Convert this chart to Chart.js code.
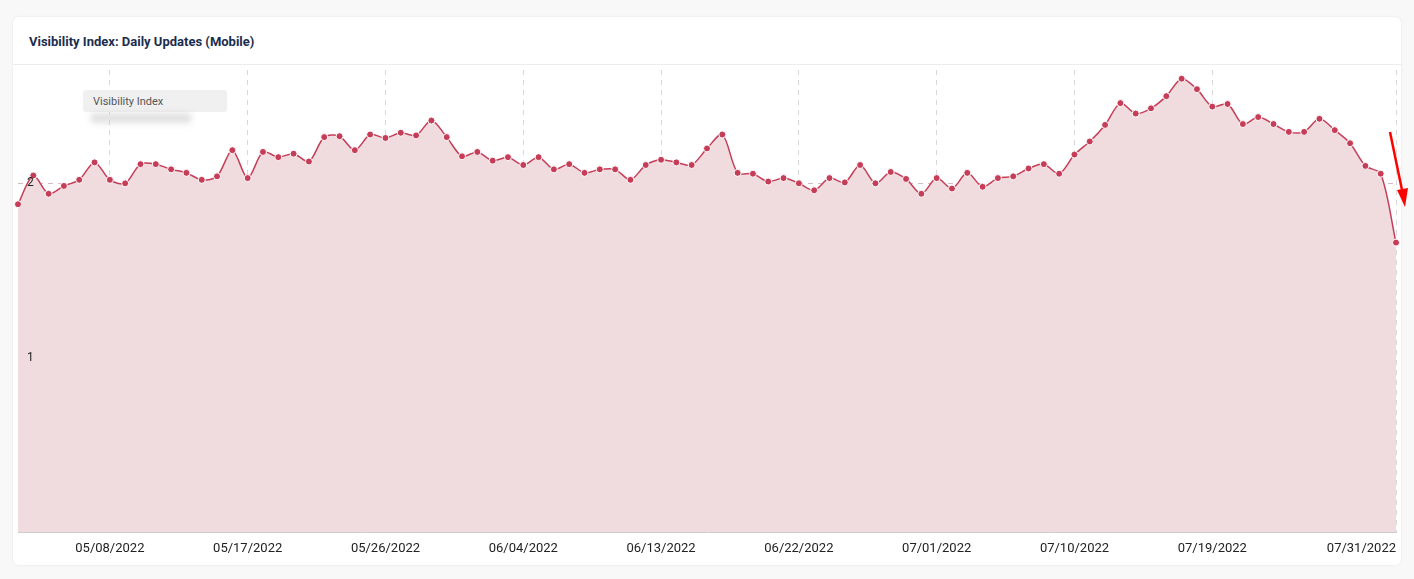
<!DOCTYPE html>
<html>
<head>
<meta charset="utf-8">
<script src="https://cdn.jsdelivr.net/npm/chart.js@4"></script>
<style>
  body { margin: 0; background: #f8f8f8; font-family: Roboto, "Noto Sans", sans-serif; }
  #card { position: absolute; left: 13px; top: 17px; width: 1388px; height: 548px; background: #fff;
          border-radius: 6px; box-shadow: 0 0 3px rgba(0,0,0,0.08); overflow: hidden; }
  #title { position: absolute; left: 16px; top: 17px; font-size: 13px; font-weight: bold; color: #1b2d4f; }
  #sep { position: absolute; left: 0; right: 0; top: 47px; border-top: 1px solid #ececec; }
  #wrap { position: absolute; left: 0; top: 48px; width: 1388px; height: 500px; }
  #legend { position: absolute; left: 70px; top: 73px; width: 144px; height: 22px; background: #f0f0f0;
            border-radius: 3px; font-size: 11px; color: #555; padding: 5px 0 0 10px; box-sizing: border-box; }
  #blur { position: absolute; left: 78px; top: 96px; width: 100px; height: 10px; background: #ccc;
          filter: blur(3px); opacity: 0.6; }
  svg { position: absolute; left: 0; top: 0; }
</style>
</head>
<body>
<div id="card">
  <div id="title">Visibility Index: Daily Updates (Mobile)</div>
  <div id="sep"></div>
  <div id="wrap"><canvas id="c"></canvas></div>
  <div id="legend">Visibility Index</div>
  <div id="blur"></div>
</div>
<svg width="1414" height="579">
  <line x1="1390" y1="132" x2="1402" y2="190" stroke="#f00" stroke-width="2.5"/>
  <polygon points="1397,190 1408,188 1405,207" fill="#f00"/>
</svg>
<script>
// daily dates 05/02/2022 .. 07/31/2022
let dates = [];
let d = new Date(2022, 4, 2);
while (d <= new Date(2022, 6, 31)) {
    let mm = String(d.getMonth() + 1).padStart(2, '0');
    let dd = String(d.getDate()).padStart(2, '0');
    dates.push(mm + '/' + dd + '/2022');
    d.setDate(d.getDate() + 1);
}

let visibility = [
    1.88, 2.045, 1.94, 1.985, 2.02, 2.12, 2.02, 2.0, 2.11, 2.11,
    2.08, 2.06, 2.02, 2.04, 2.19, 2.03, 2.18, 2.15, 2.17, 2.125,
    2.265, 2.27, 2.19, 2.28, 2.26, 2.29, 2.275, 2.36, 2.265, 2.155,
    2.18, 2.13, 2.15, 2.105, 2.15, 2.08, 2.11, 2.06, 2.08, 2.08,
    2.02, 2.105, 2.135, 2.12, 2.105, 2.2, 2.28, 2.06, 2.055, 2.01,
    2.03, 2.0, 1.96, 2.03, 2.005, 2.105, 2.0, 2.065, 2.025, 1.94,
    2.03, 1.97, 2.06, 1.98, 2.03, 2.04, 2.085, 2.11, 2.055, 2.165,
    2.24, 2.335, 2.46, 2.40, 2.43, 2.50, 2.60, 2.54, 2.44, 2.455,
    2.34, 2.38, 2.34, 2.295, 2.295, 2.37, 2.305, 2.23, 2.10, 2.055,
    1.66
];
let yTicks = [1, 2];

function showTick(i) {
    return ((i - 6) % 9 === 0 && i < 85) || i === dates.length - 1;
}

// draws tick labels using the chart's own scales
const labelPlugin = {
    id: 'labels',
    afterDraw(chart) {
        const c = chart.ctx, x = chart.scales.x, y = chart.scales.y;
        c.save();
        c.fillStyle = '#222';
        c.font = '13px Roboto';
        c.textBaseline = 'middle';
        dates.forEach((lab, i) => {
            if (!showTick(i)) return;
            c.textAlign = i === dates.length - 1 ? 'right' : 'center';
            c.fillText(lab, x.getPixelForValue(i), x.bottom + 17);
        });
        c.font = '12px Roboto';
        c.textAlign = 'left';
        yTicks.forEach(v => c.fillText(String(v), x.left + 9, y.getPixelForValue(v)));
        c.restore();
    }
};

new Chart(document.getElementById('c'), {
    type: 'line',
    data: {
        labels: dates,
        datasets: [{
            label: 'Visibility Index',
            data: visibility,
            borderColor: '#c63d58',
            backgroundColor: '#f0dcdf',
            borderWidth: 1.5,
            fill: 'origin',
            tension: 0.3,
            pointRadius: 3.5,
            pointBackgroundColor: '#c63d58',
            pointBorderColor: '#fff',
            pointBorderWidth: 1
        }]
    },
    options: {
        responsive: true,
        maintainAspectRatio: false,
        animation: false,
        layout: { padding: { left: 3, right: 2, top: 0, bottom: 33 } },
        plugins: { legend: { display: false }, tooltip: { enabled: false } },
        scales: {
            x: {
                offset: false,
                border: { display: true, color: '#ccc', dash: [5, 5] },
                grid: {
                    drawTicks: false,
                    color: ctx => (ctx.index !== undefined && showTick(ctx.index)) ? '#d8d8d8' : 'rgba(0,0,0,0)'
                },
                ticks: { display: false, autoSkip: false }
            },
            y: {
                min: 0,
                max: 2.65,
                border: { display: false, dash: [5, 5] },
                grid: {
                    drawTicks: false,
                    color: ctx => (ctx.tick && yTicks.includes(ctx.tick.value)) ? '#d3bcc1' : 'rgba(0,0,0,0)'
                },
                afterBuildTicks: axis => { axis.ticks = yTicks.map(v => ({ value: v })); },
                ticks: { display: false }
            }
        }
    },
    plugins: [labelPlugin]
});
</script>
</body>
</html>
